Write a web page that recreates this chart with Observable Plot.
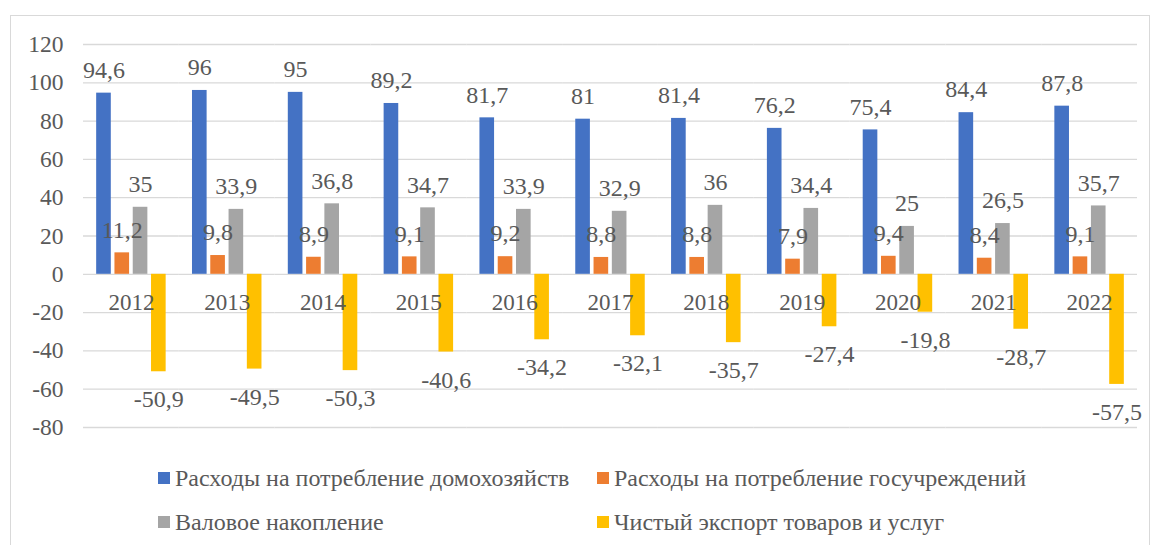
<!DOCTYPE html>
<html>
<head>
<meta charset="utf-8">
<script src="https://cdn.jsdelivr.net/npm/d3@7"></script>
<script src="https://cdn.jsdelivr.net/npm/@observablehq/plot@0.6"></script>
<style>
  html, body { margin: 0; padding: 0; background: #fff; }
  #wrap { position: relative; width: 1154px; height: 545px; overflow: hidden; font-family: "Liberation Serif", Tinos, "Times New Roman", serif; }
  #frame { position: absolute; left: 10px; top: 15px; width: 1140px; height: 560px; border: 1.5px solid #d9d9d9; box-sizing: border-box; }
  #chart { position: absolute; left: 0; top: 0; }
  .leg { position: absolute; display: flex; align-items: center; font-size: 24px; color: #595959; white-space: nowrap; }
  .leg .sw { width: 12px; height: 12px; margin-right: 5px; }
  #chart svg text { font-family: "Liberation Serif", Tinos, "Times New Roman", serif; }
</style>
</head>
<body>
<div id="wrap">
  <div id="frame"></div>
  <div id="chart"></div>
  <div id="legend"></div>
</div>
<script>
const years = [2012, 2013, 2014, 2015, 2016, 2017, 2018, 2019, 2020, 2021, 2022];
const seriesNames = [
  "Расходы на потребление домохозяйств",
  "Расходы на потребление госучреждений",
  "Валовое накопление",
  "Чистый экспорт товаров и услуг"
];
const household   = [94.6, 96, 95, 89.2, 81.7, 81, 81.4, 76.2, 75.4, 84.4, 87.8];
const government  = [11.2, 9.8, 8.9, 9.1, 9.2, 8.8, 8.8, 7.9, 9.4, 8.4, 9.1];
const accumulation = [35, 33.9, 36.8, 34.7, 33.9, 32.9, 36, 34.4, 25, 26.5, 35.7];
const netExport   = [-50.9, -49.5, -50.3, -40.6, -34.2, -32.1, -35.7, -27.4, -19.8, -28.7, -57.5];
const colors = ["#4472C4", "#ED7D31", "#A5A5A5", "#FFC000"];
const yTicks = [-80, -60, -40, -20, 0, 20, 40, 60, 80, 100, 120];

const seriesValues = [household, government, accumulation, netExport];
const data = [];
years.forEach((yr, i) => {
  seriesNames.forEach((s, j) => data.push({year: yr, series: s, value: seriesValues[j][i]}));
});
const fmt = v => String(v).replace(".", ",");
const textColor = "#595959";
const serif = "'Liberation Serif', Tinos, 'Times New Roman', serif";

const chart = Plot.plot({
  width: 1154,
  height: 445,
  marginLeft: 83,
  marginRight: 17,
  marginTop: 44,
  marginBottom: 18,
  style: {fontFamily: serif, background: "transparent", overflow: "visible"},
  fx: {domain: years, padding: 0, round: false, axis: null},
  x: {domain: seriesNames, paddingInner: 0.2, paddingOuter: 0.72, round: false, axis: null},
  y: {domain: [-80, 120], axis: null},
  color: {domain: seriesNames, range: colors},
  marks: [
    Plot.ruleY(yTicks, {stroke: "#d9d9d9", strokeWidth: 1.3}),
    Plot.barY(data, {fx: "year", x: "series", y: "value", fill: "series"}),
    Plot.axisY(yTicks, {ticks: yTicks, tickSize: 0, tickPadding: 20, fontSize: 23.5, fill: textColor, tickFormat: d => String(d), anchor: "left", label: null}),
    Plot.text(years, {fx: d => d, y: () => -15, text: d => String(d), frameAnchor: "middle", lineAnchor: "middle", fontSize: 23, fill: textColor}),
    Plot.text(data.filter(d => d.value >= 0), {fx: "year", x: "series", y: "value", text: d => fmt(d.value), dy: -23, lineAnchor: "middle", fontSize: 24, fill: textColor}),
    Plot.text(data.filter(d => d.value < 0), {fx: "year", x: "series", y: "value", text: d => fmt(d.value), dy: 28, lineAnchor: "middle", fontSize: 24, fill: textColor})
  ]
});
document.getElementById("chart").appendChild(chart);

const legendPos = [
  {left: 158, top: 478},
  {left: 597, top: 478},
  {left: 158, top: 522},
  {left: 597, top: 522}
];
const legend = document.getElementById("legend");
seriesNames.forEach((s, i) => {
  const d = document.createElement("div");
  d.className = "leg";
  d.style.left = legendPos[i].left + "px";
  d.style.top = (legendPos[i].top - 14) + "px";
  d.style.height = "28px";
  const sw = document.createElement("span");
  sw.className = "sw";
  sw.style.background = colors[i];
  const t = document.createElement("span");
  t.textContent = s;
  d.appendChild(sw);
  d.appendChild(t);
  legend.appendChild(d);
});
</script>
</body>
</html>
